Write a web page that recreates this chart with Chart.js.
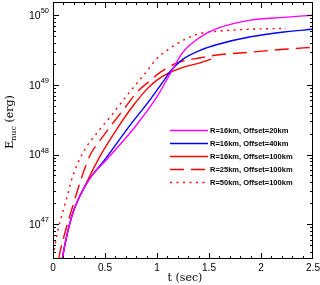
<!DOCTYPE html>
<html>
<head>
<meta charset="utf-8">
<script src="https://cdn.jsdelivr.net/npm/chart.js@4.4.1/dist/chart.umd.min.js"></script>
<style>
  html, body { margin: 0; padding: 0; background: #fff; }
  #wrap { width: 320px; height: 285px; }
</style>
</head>
<body>
<div id="wrap"><canvas id="myChart"></canvas></div>
<script>
// time (sec) and E_nuc (erg) for each run
var t20 = [0.07, 0.09, 0.18, 0.33, 0.53, 0.79, 1.0, 1.13, 1.25, 1.42, 1.58, 1.9, 2.22, 2.5];
var e20 = [2.0e46, 3.24e46, 1.29e47, 3.98e47, 8.9e47, 2.51e48, 6.76e48, 1.48e49, 2.95e49, 4.9e49, 6.46e49, 8.51e49, 9.33e49, 1.0e50];

var t40 = [0.07, 0.09, 0.18, 0.33, 0.5, 0.72, 0.94, 1.06, 1.13, 1.25, 1.42, 1.58, 1.9, 2.22, 2.5];
var e40 = [2.0e46, 3.24e46, 1.29e47, 3.98e47, 8.5e47, 2.4e48, 6.31e48, 1.12e49, 1.58e49, 2.34e49, 3.16e49, 3.8e49, 4.9e49, 5.75e49, 6.3e49];

var t100 = [0.07, 0.09, 0.18, 0.33, 0.45, 0.62, 0.77, 0.91, 1.0, 1.1, 1.25, 1.42, 1.52];
var e100 = [2.0e46, 3.24e46, 1.29e47, 4.17e47, 9.33e47, 2.4e48, 5.01e48, 8.91e48, 1.17e49, 1.45e49, 1.78e49, 2.09e49, 2.34e49];

var tR25 = [0.03, 0.055, 0.11, 0.19, 0.28, 0.36, 0.45, 0.55, 0.68, 0.81, 0.94, 1.03, 1.2, 1.42, 1.58, 1.9, 2.22, 2.5];
var eR25 = [1.58e46, 3.16e46, 7.08e46, 1.82e47, 4.9e47, 1.0e48, 1.58e48, 2.51e48, 4.47e48, 7.94e48, 1.17e49, 1.51e49, 2.09e49, 2.45e49, 2.69e49, 2.95e49, 3.24e49, 3.47e49];

var tR50 = [0.0, 0.05, 0.12, 0.19, 0.29, 0.45, 0.55, 0.68, 0.81, 0.91, 1.0, 1.1, 1.25, 1.42, 1.58, 1.9, 2.24];
var eR50 = [3.47e46, 8.51e46, 2.04e47, 4.9e47, 1.07e48, 2.29e48, 3.47e48, 6.17e48, 1.07e49, 1.62e49, 2.4e49, 3.16e49, 4.37e49, 5.5e49, 5.89e49, 6.31e49, 6.46e49];

var labels = ["R=16km, Offset=20km", "R=16km, Offset=40km", "R=16km, Offset=100km",
              "R=25km, Offset=100km", "R=50km, Offset=100km"];

var xTicks = [0, 0.5, 1, 1.5, 2, 2.5];
var yTickExps = [47, 48, 49, 50];

function pts(ts, es) {
  return ts.map(function (t, i) { return { x: t, y: es[i] }; });
}

function series(label, ts, es, color, dash) {
  return {
    label: label,
    data: pts(ts, es),
    borderColor: color,
    borderWidth: 1.4,
    borderDash: dash,
    pointRadius: 0,
    fill: false,
    cubicInterpolationMode: "monotone"
  };
}

// frame, in-pointing ticks, labels, titles and the legend box
var decor = {
  id: "decor",
  afterDatasetsDraw: function (chart) {
    var ctx = chart.ctx, a = chart.chartArea;
    var xs = chart.scales.x, ys = chart.scales.y;
    ctx.save();
    ctx.strokeStyle = "#000";
    ctx.lineWidth = 1;
    ctx.strokeRect(a.left + 0.5, a.top + 0.5, a.right - a.left - 1, a.bottom - a.top - 1);

    ctx.beginPath();
    // x ticks, every 0.1, long every 0.5
    for (var i = 1; i < 25; i++) {
      var v = i / 10;
      var px = Math.round(xs.getPixelForValue(v)) + 0.5;
      var len = (i % 5 === 0) ? 6 : 3;
      ctx.moveTo(px, a.bottom); ctx.lineTo(px, a.bottom - len);
      ctx.moveTo(px, a.top); ctx.lineTo(px, a.top + len);
    }
    // y ticks on a log axis
    for (var d = 46; d <= 50; d++) {
      for (var k = 1; k <= 9; k++) {
        var val = k * Math.pow(10, d);
        if (val < ys.min || val > ys.max) continue;
        var py = Math.round(ys.getPixelForValue(val)) + 0.5;
        var l = (k === 1) ? 6 : 3;
        ctx.moveTo(a.left, py); ctx.lineTo(a.left + l, py);
        ctx.moveTo(a.right, py); ctx.lineTo(a.right - l, py);
      }
    }
    ctx.stroke();

    ctx.fillStyle = "#000";
    // x tick labels
    ctx.font = "10px 'Liberation Sans'";
    ctx.textAlign = "center";
    ctx.textBaseline = "middle";
    xTicks.forEach(function (v) {
      ctx.fillText(String(v), xs.getPixelForValue(v), 268);
    });
    // y tick labels 10^n
    yTickExps.forEach(function (n) {
      var py = ys.getPixelForValue(Math.pow(10, n));
      ctx.font = "7.5px 'Liberation Sans'";
      var ew = ctx.measureText(String(n)).width;
      ctx.textAlign = "right";
      ctx.fillText(String(n), 49, py - 4);
      ctx.font = "10.5px 'Liberation Sans'";
      ctx.fillText("10", 49 - ew, py + 1);
    });

    // axis titles
    ctx.font = "11px 'DejaVu Serif'";
    ctx.textAlign = "center";
    ctx.textBaseline = "alphabetic";
    ctx.fillText("t (sec)", 185, 281);

    ctx.translate(13, 122);
    ctx.rotate(-Math.PI / 2);
    var partE = "E", partSub = "nuc", partRest = " (erg)";
    ctx.font = "11px 'DejaVu Serif'";
    var wE = ctx.measureText(partE).width, wR = ctx.measureText(partRest).width;
    ctx.font = "8px 'DejaVu Serif'";
    var wS = ctx.measureText(partSub).width;
    var x0 = -(wE + wS + wR) / 2;
    ctx.textAlign = "left";
    ctx.font = "11px 'DejaVu Serif'";
    ctx.fillText(partE, x0, 0);
    ctx.font = "8px 'DejaVu Serif'";
    ctx.fillText(partSub, x0 + wE, 3);
    ctx.font = "11px 'DejaVu Serif'";
    ctx.fillText(partRest, x0 + wE + wS, 0);
    ctx.setTransform(1, 0, 0, 1, 0, 0);

    // legend
    ctx.font = "bold 7.5px 'Liberation Sans'";
    ctx.textAlign = "left";
    ctx.textBaseline = "middle";
    chart.data.datasets.forEach(function (ds, i) {
      var y = 130 + i * 13 + 0.5;
      ctx.strokeStyle = ds.borderColor;
      ctx.lineWidth = ds.borderWidth;
      ctx.setLineDash(ds.borderDash || []);
      ctx.beginPath();
      ctx.moveTo(170, y); ctx.lineTo(208, y);
      ctx.stroke();
      ctx.setLineDash([]);
      ctx.fillStyle = "#000";
      ctx.fillText(ds.label, 210, y);
    });
    ctx.restore();
  }
};

new Chart("myChart", {
  type: "line",
  data: {
    datasets: [
      series(labels[0], t20, e20, "#ff00ff", []),
      series(labels[1], t40, e40, "#0000ff", []),
      series(labels[2], t100, e100, "#ff0000", []),
      series(labels[3], tR25, eR25, "#ff0000", [14, 7]),
      series(labels[4], tR50, eR50, "#ff0000", [2, 4.5])
    ]
  },
  options: {
    responsive: true,
    maintainAspectRatio: false,
    animation: false,
    layout: { padding: { left: 53, right: 7, top: 2, bottom: 26 } },
    plugins: { legend: { display: false }, tooltip: { enabled: false } },
    scales: {
      x: { type: "linear", display: false, min: 0, max: 2.5 },
      y: { type: "logarithmic", display: false, min: Math.pow(10, 46.5), max: Math.pow(10, 50.19) }
    }
  },
  plugins: [decor]
});
</script>
</body>
</html>
